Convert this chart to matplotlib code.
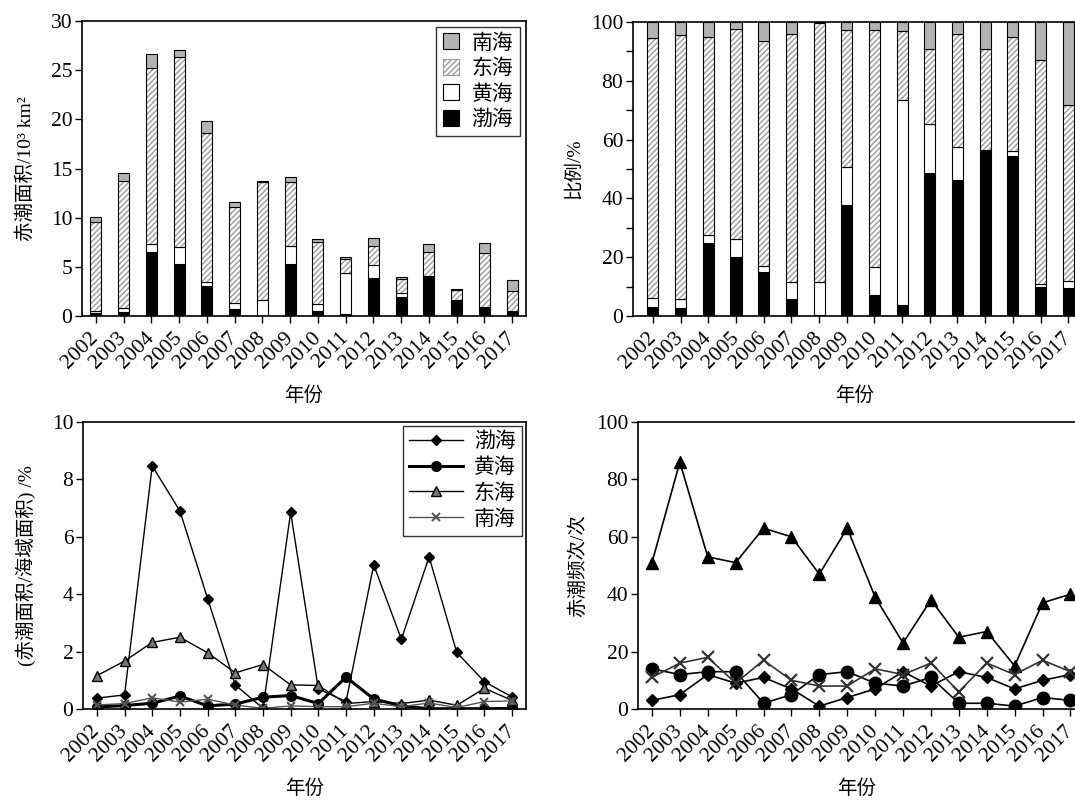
import numpy as np
import matplotlib
matplotlib.use("Agg")
import matplotlib.pyplot as plt
from matplotlib.patches import Patch
from matplotlib.ticker import MultipleLocator

plt.rcParams['font.family'] = ['Liberation Serif', 'Noto Sans CJK SC', 'DejaVu Sans']
plt.rcParams['hatch.linewidth'] = 1.0

years = [str(y) for y in range(2002, 2018)]

# area, 10^3 km2 (stacked: bohai, huanghai, donghai, nanhai)
area_bohai = [0.34, 0.41, 6.51, 5.32, 3.05, 0.71, 0.02, 5.25, 0.54, 0.20, 3.86, 1.90, 4.10, 1.56, 0.85, 0.44]
area_huanghai = [0.20, 0.44, 0.78, 1.73, 0.37, 0.58, 1.57, 1.83, 0.71, 4.21, 1.29, 0.40, 0.00, 0.03, 0.03, 0.07]
area_donghai = [9.05, 12.91, 17.90, 19.32, 15.16, 9.76, 12.07, 6.58, 6.31, 1.42, 2.00, 1.50, 2.44, 1.02, 5.56, 2.07]
area_nanhai = [0.51, 0.74, 1.41, 0.71, 1.25, 0.51, 0.07, 0.44, 0.30, 0.20, 0.78, 0.20, 0.75, 0.17, 1.02, 1.05]

# share, %
pct_bohai = [3.2, 2.8, 24.7, 19.9, 15.1, 5.8, 0.2, 37.6, 7.2, 3.7, 48.7, 46.4, 56.4, 54.5, 10.0, 9.4]
pct_huanghai = [2.8, 3.1, 2.8, 6.2, 1.9, 5.6, 11.5, 13.1, 9.3, 69.8, 16.6, 11.1, 0.0, 1.5, 0.8, 2.6]
pct_donghai = [88.7, 89.6, 67.3, 71.4, 76.6, 84.5, 88.1, 46.6, 80.8, 23.4, 25.5, 38.5, 34.4, 39.0, 76.4, 59.6]

# ratio of red tide area to sea area, %
ratio_bohai = [0.38, 0.49, 8.47, 6.90, 3.85, 0.84, 0.02, 6.85, 0.70, 0.26, 5.02, 2.43, 5.30, 1.97, 0.95, 0.42]
ratio_huanghai = [0.07, 0.12, 0.20, 0.45, 0.11, 0.17, 0.41, 0.47, 0.19, 1.11, 0.35, 0.11, 0.01, 0.01, 0.01, 0.02]
ratio_donghai = [1.16, 1.67, 2.32, 2.50, 1.96, 1.26, 1.55, 0.84, 0.82, 0.19, 0.26, 0.19, 0.31, 0.13, 0.72, 0.30]
ratio_nanhai = [0.14, 0.19, 0.39, 0.24, 0.34, 0.14, 0.02, 0.11, 0.08, 0.08, 0.20, 0.08, 0.21, 0.05, 0.26, 0.28]

# red tide counts
cnt_bohai = [3, 5, 12, 9, 11, 7, 1, 4, 7, 13, 8, 13, 11, 7, 10, 12]
cnt_huanghai = [14, 12, 13, 13, 2, 5, 12, 13, 9, 8, 11, 2, 2, 1, 4, 3]
cnt_donghai = [51, 86, 53, 51, 63, 60, 47, 63, 39, 23, 38, 25, 27, 15, 37, 40]
cnt_nanhai = [11, 16, 18, 9, 17, 10, 8, 8, 14, 12, 16, 6, 16, 12, 17, 13]

x = np.arange(len(years))
W, H = 1075, 800
fig = plt.figure(figsize=(W / 100, H / 100), dpi=100)

def axes_px(l, t, r, b):
    return fig.add_axes([l / W, 1 - b / H, (r - l) / W, (b - t) / H])

ax1 = axes_px(82, 21, 526, 316)
ax2 = axes_px(633, 22, 1076, 316)
ax3 = axes_px(83, 422, 526, 709)
ax4 = axes_px(638, 422, 1076, 709)

gray = '#b3b3b3'
hatch_col = '#9a9a9a'
bw = 0.4
NUM = 15.5
CN = 14

def stacked(ax, b, h, d, n):
    b = np.array(b); h = np.array(h); d = np.array(d); n = np.array(n)
    ax.bar(x, b, bw, color='black', edgecolor='black', lw=0.8)
    ax.bar(x, h, bw, bottom=b, color='white', edgecolor='black', lw=0.8)
    ax.bar(x, d, bw, bottom=b + h, color='white', edgecolor=hatch_col, lw=0, hatch='//////')
    ax.bar(x, d, bw, bottom=b + h, color='none', edgecolor='black', lw=0.8)
    ax.bar(x, n, bw, bottom=b + h + d, color=gray, edgecolor='black', lw=0.8)

stacked(ax1, area_bohai, area_huanghai, area_donghai, area_nanhai)
pct_nanhai = 100 - np.array(pct_bohai) - np.array(pct_huanghai) - np.array(pct_donghai)
stacked(ax2, pct_bohai, pct_huanghai, pct_donghai, pct_nanhai)

ax1.set_xlim(-0.5, 15.5)
ax1.set_ylim(0, 30)
ax1.yaxis.set_major_locator(MultipleLocator(5))
ax1.set_ylabel('赤潮面积/10³ km²', fontsize=CN, labelpad=11)

ax2.set_xlim(-0.72, 15.28)
ax2.set_ylim(0, 100)
ax2.yaxis.set_major_locator(MultipleLocator(20))
ax2.yaxis.set_minor_locator(MultipleLocator(10))
ax2.set_ylabel('比例/%', fontsize=CN, labelpad=6)

handles = [Patch(facecolor=gray, edgecolor='black', lw=0.8),
           Patch(facecolor='white', edgecolor=hatch_col, hatch='//////', lw=0.8),
           Patch(facecolor='white', edgecolor='black', lw=0.8),
           Patch(facecolor='black', edgecolor='black', lw=0.8)]
leg = ax1.legend(handles, ['南海', '东海', '黄海', '渤海'], loc='upper right', fontsize=15,
                 frameon=True, fancybox=False, edgecolor='black', handlelength=0.8,
                 handleheight=0.8, handletextpad=0.6, borderpad=0.3, labelspacing=0.25,
                 bbox_to_anchor=(1.0, 1.0), borderaxespad=0.3)
leg.get_frame().set_linewidth(1.0)

# bottom-left: ratio
ax3.plot(x, ratio_bohai, color='black', lw=1.0, marker='D', ms=5, mfc='black', mec='black', label='渤海')
ax3.plot(x, ratio_huanghai, color='black', lw=2.2, marker='o', ms=7, mfc='black', mec='black', label='黄海')
ax3.plot(x, ratio_donghai, color='black', lw=1.0, marker='^', ms=6.5, mfc='#777777', mec='black', label='东海')
ax3.plot(x, ratio_nanhai, color='#555555', lw=1.0, marker='x', ms=6, mew=1.5, label='南海')
ax3.set_xlim(-0.5, 15.5)
ax3.set_ylim(0, 10)
ax3.yaxis.set_major_locator(MultipleLocator(2))
ax3.set_ylabel('(赤潮面积/海域面积) /%', fontsize=CN, labelpad=11)
leg3 = ax3.legend(loc='upper right', fontsize=15, frameon=True, fancybox=False,
                  edgecolor='black', handlelength=2.6, handletextpad=0.5, borderpad=0.3,
                  labelspacing=0.3, bbox_to_anchor=(1.0, 1.0), borderaxespad=0.2)
leg3.get_frame().set_linewidth(1.0)

# bottom-right: counts
ax4.plot(x, cnt_donghai, color='black', lw=1.2, marker='^', ms=9, mfc='black', mec='black')
ax4.plot(x, cnt_huanghai, color='black', lw=1.2, marker='o', ms=9, mfc='black', mec='black')
ax4.plot(x, cnt_bohai, color='black', lw=1.2, marker='D', ms=6, mfc='black', mec='black')
ax4.plot(x, cnt_nanhai, color='#333333', lw=1.2, marker='x', ms=8, mew=1.6)
ax4.set_xlim(-0.5, 15.2)
ax4.set_ylim(0, 100)
ax4.yaxis.set_major_locator(MultipleLocator(20))
ax4.set_ylabel('赤潮频次/次', fontsize=CN, labelpad=6)

for ax in (ax1, ax2, ax3, ax4):
    ax.set_xticks(x)
    ax.set_xticklabels(years, rotation=45, ha='right', va='center', rotation_mode='anchor', fontsize=NUM)
    ax.tick_params(axis='both', which='both', direction='out', length=5, width=1, labelsize=NUM, pad=2)
    ax.tick_params(axis='x', pad=9)
    ax.set_xlabel('年份', fontsize=CN, labelpad=10)
    for s in ax.spines.values():
        s.set_linewidth(1.2)

fig.savefig('out.png', dpi=100)
